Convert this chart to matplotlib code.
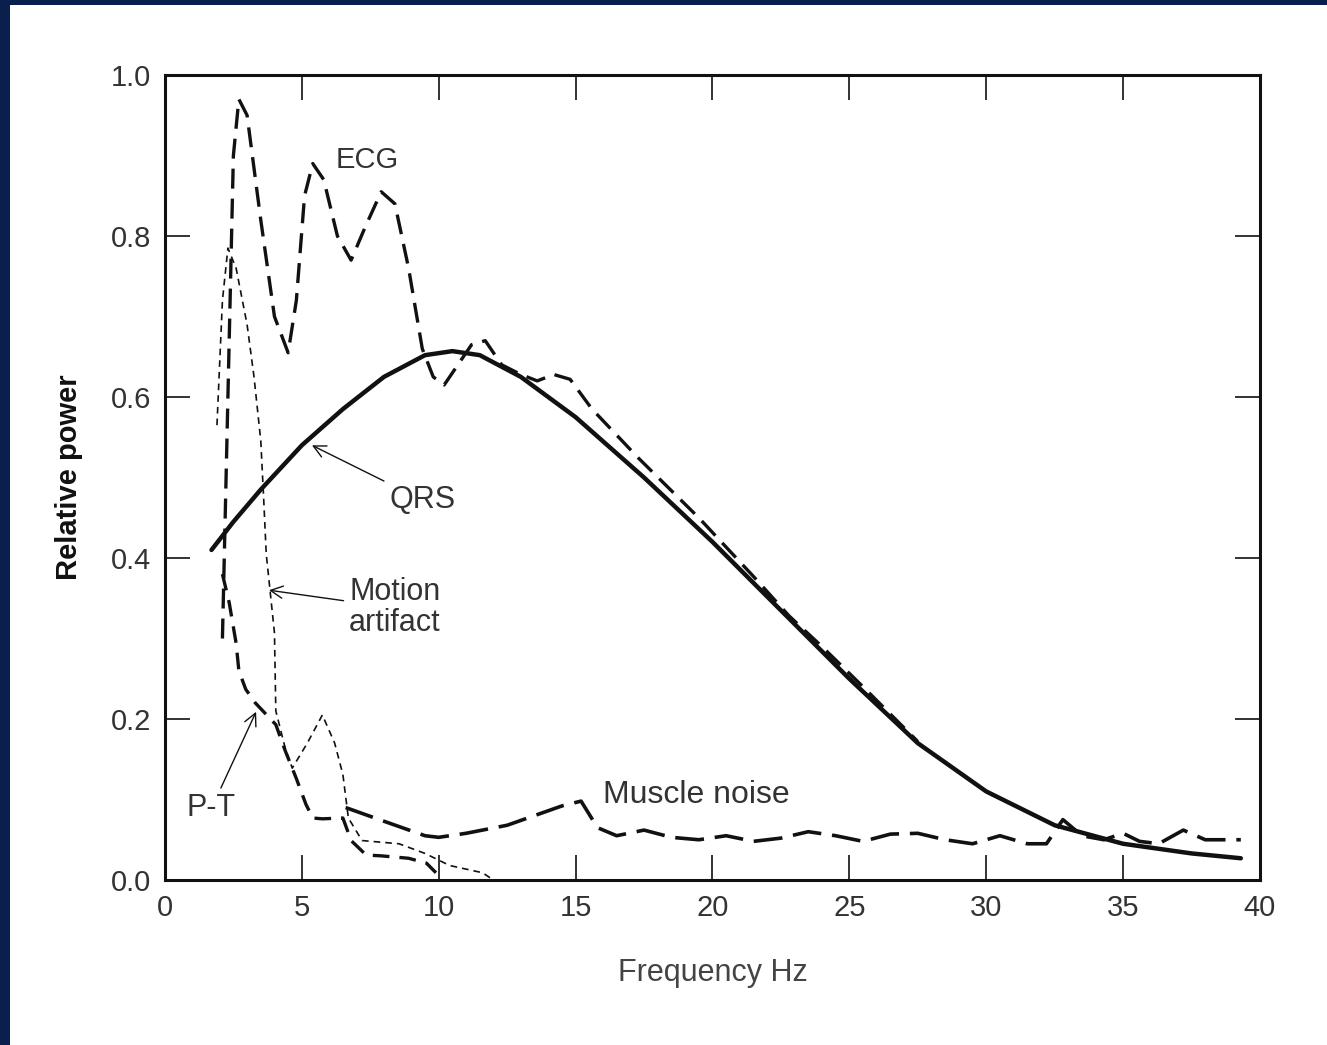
import numpy as np
import matplotlib
matplotlib.use("Agg")
import matplotlib.pyplot as plt
from matplotlib.patches import Rectangle

plt.rcParams['font.family'] = ['Liberation Sans', 'DejaVu Sans']

# curves (frequency in Hz, relative power)
qrs_x = [1.7, 2.5, 3.5, 5.0, 6.5, 8.0, 9.5, 10.5, 11.5, 13.0, 15.0, 17.5, 20.0,
         22.5, 25.0, 27.5, 30.0, 32.5, 35.0, 37.5, 39.3]
qrs_y = [0.41, 0.445, 0.485, 0.54, 0.585, 0.625, 0.652, 0.657, 0.652, 0.625, 0.575,
         0.5, 0.42, 0.335, 0.25, 0.17, 0.11, 0.068, 0.045, 0.033, 0.027]

ecg_x = [2.1, 2.3, 2.5, 2.7, 3.0, 3.5, 4.0, 4.5, 4.8, 5.1, 5.4, 5.8, 6.3, 6.8, 7.3,
         7.9, 8.4, 8.9, 9.4, 9.8, 10.2, 10.7, 11.2, 11.7, 12.3, 13.0, 13.6, 14.2,
         14.8, 15.6, 17.3, 19.5, 21.5, 22.8, 24.0, 25.5, 27.5]
ecg_y = [0.30, 0.6, 0.9, 0.97, 0.95, 0.82, 0.70, 0.655, 0.72, 0.85, 0.89, 0.87, 0.80,
         0.77, 0.81, 0.855, 0.84, 0.76, 0.66, 0.625, 0.615, 0.64, 0.665, 0.67, 0.64,
         0.628, 0.62, 0.628, 0.622, 0.585, 0.524, 0.45, 0.377, 0.328, 0.29, 0.24, 0.172]

motion_x = [1.9, 2.1, 2.3, 2.6, 3.0, 3.25, 3.5, 3.6, 3.7, 4.0, 4.05, 4.4, 4.65, 5.2,
            5.75, 6.2, 6.5, 6.7, 7.2, 8.55, 9.5, 10.4, 11.6, 12.0]
motion_y = [0.565, 0.72, 0.785, 0.76, 0.69, 0.626, 0.546, 0.478, 0.405, 0.307, 0.21,
            0.163, 0.139, 0.17, 0.205, 0.17, 0.131, 0.077, 0.049, 0.045, 0.033, 0.018,
            0.009, 0.0]

pt_x = [2.1, 2.35, 2.6, 2.7, 2.95, 3.3, 4.05, 4.4, 4.8, 5.15, 5.4, 5.75, 6.5, 6.8,
        7.35, 7.9, 8.9, 9.55, 9.9]
pt_y = [0.38, 0.344, 0.294, 0.26, 0.237, 0.22, 0.193, 0.16, 0.126, 0.094, 0.077,
        0.076, 0.077, 0.049, 0.031, 0.03, 0.027, 0.021, 0.009]

muscle_x = [6.6, 8.0, 9.5, 10.0, 11.0, 12.5, 13.5, 14.5, 15.2, 15.8, 16.5, 17.5, 18.5,
            19.5, 20.5, 21.5, 22.5, 23.5, 24.5, 25.5, 26.5, 27.5, 28.5, 29.5, 30.5,
            31.5, 32.2, 32.8, 33.5, 34.3, 35.0, 35.6, 36.3, 37.2, 38.0, 39.3]
muscle_y = [0.09, 0.073, 0.055, 0.053, 0.058, 0.068, 0.08, 0.092, 0.098, 0.065, 0.055,
            0.062, 0.053, 0.05, 0.055, 0.048, 0.052, 0.06, 0.055, 0.048, 0.057, 0.058,
            0.05, 0.045, 0.055, 0.045, 0.045, 0.075, 0.055, 0.05, 0.058, 0.048, 0.045,
            0.062, 0.05, 0.05]

x_ticks = [0, 5, 10, 15, 20, 25, 30, 35, 40]
y_ticks = [0.0, 0.2, 0.4, 0.6, 0.8, 1.0]

ink = '#111111'
txt = '#333333'
navy = '#0b1f4f'

fig = plt.figure(figsize=(13.27, 10.45), dpi=100, facecolor='white')
# navy frame strips on the left and top edges
fig.patches.append(Rectangle((0, 0), 10 / 1327, 1, transform=fig.transFigure,
                             facecolor=navy, edgecolor='none'))
fig.patches.append(Rectangle((0, 1 - 5 / 1045), 1, 5 / 1045, transform=fig.transFigure,
                             facecolor=navy, edgecolor='none'))

ax = fig.add_axes([0.1243, 0.1579, 0.8252, 0.7703])
ax.set_facecolor('white')

ax.plot(qrs_x, qrs_y, color=ink, lw=3.2, solid_capstyle='round')
ax.plot(ecg_x, ecg_y, color=ink, lw=2.4, dashes=(6, 3))
ax.plot(motion_x, motion_y, color=ink, lw=1.2, dashes=(4, 3))
ax.plot(pt_x, pt_y, color=ink, lw=2.4, dashes=(5, 3))
ax.plot(muscle_x, muscle_y, color=ink, lw=2.6, dashes=(8, 3))

ax.set_xlim(0, 40)
ax.set_ylim(0, 1.0)
ax.set_xticks(x_ticks)
ax.set_yticks(y_ticks)
ax.set_yticklabels(['%.1f' % v for v in y_ticks])
ax.tick_params(direction='in', length=18, width=1.2, color=ink, labelsize=21,
               labelcolor=txt, top=True, right=True, pad=10)
for s in ax.spines.values():
    s.set_linewidth(2.2)
    s.set_color(ink)

ax.set_xlabel('Frequency Hz', fontsize=22, color='#444444', labelpad=26)
ax.set_ylabel('Relative power', fontsize=21, color=ink, fontweight='bold', labelpad=20)

# curve labels
ax.text(7.4, 0.894, 'ECG', fontsize=21, color=txt, ha='center', va='center')
ax.annotate('QRS', xy=(5.37, 0.54), xytext=(9.4, 0.472), fontsize=22, color=txt,
            ha='center', va='center',
            arrowprops=dict(arrowstyle='->', color=ink, lw=1.0,
                            shrinkA=2, shrinkB=0))
ax.annotate('Motion\nartifact', xy=(3.8, 0.36), xytext=(8.4, 0.338), fontsize=22,
            color=txt, ha='center', va='center', linespacing=1.05,
            arrowprops=dict(arrowstyle='->', color=ink, lw=1.0,
                            shrinkA=2, shrinkB=0))
ax.annotate('P-T', xy=(3.33, 0.209), xytext=(1.7, 0.089), fontsize=22, color=txt,
            ha='center', va='center',
            arrowprops=dict(arrowstyle='->', color=ink, lw=1.0,
                            shrinkA=2, shrinkB=0))
ax.text(19.4, 0.106, 'Muscle noise', fontsize=23, color=txt, ha='center', va='center')

fig.savefig('out.png', dpi=100)
